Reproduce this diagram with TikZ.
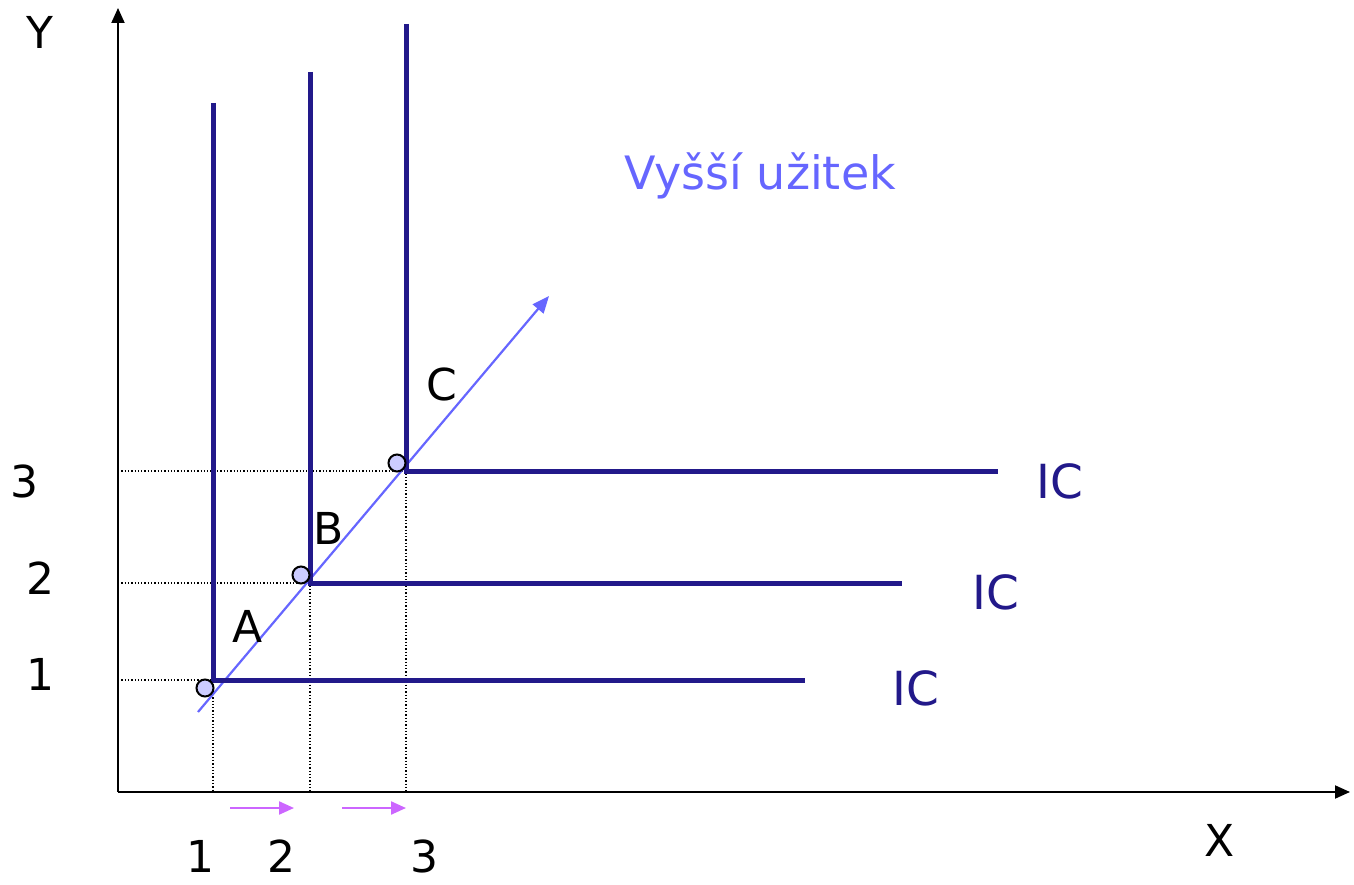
\documentclass[tikz,border=0pt]{standalone}
\usepackage{fontspec}
\setmainfont{DejaVu Sans}
\usetikzlibrary{arrows.meta}
\definecolor{icnavy}{HTML}{22198A}
\definecolor{utilblue}{HTML}{6666FF}
\definecolor{shiftpurple}{HTML}{CC66FF}
\definecolor{dotfill}{HTML}{CCCCFF}
\tikzset{
  axis/.style={line width=2pt,-{Triangle[length=15pt,width=13pt]}},
  icline/.style={line width=5pt,icnavy},
  guide/.style={line width=1.3pt,dotted},
  pt/.style={circle,draw=black,fill=dotfill,line width=2pt,minimum size=17pt,inner sep=0pt},
  lbl/.style={font=\fontsize{44}{46}\selectfont,inner sep=0pt},
  xnum/.style={lbl,anchor=base,text depth=0pt},
  iclbl/.style={font=\fontsize{47}{49}\selectfont,inner sep=0pt,text=icnavy},
  shiftarrow/.style={line width=2.2pt,shiftpurple,-{Triangle[length=15pt,width=13pt]}},
}
\begin{document}
\begin{tikzpicture}[x=1pt,y=-1pt]
\useasboundingbox (0,0) rectangle (1354,885);
% axes
\coordinate (O) at (118,792);
\coordinate (Ytip) at (118,8);
\coordinate (Xtip) at (1350,792);
\draw[axis] (O) -- (Ytip);
\draw[axis] (O) -- (Xtip);
% corners
\coordinate (A0) at (213,680);
\coordinate (B0) at (310,583);
\coordinate (C0) at (406,471);
\coordinate (Atop) at (213,103);
\coordinate (Btop) at (310,72);
\coordinate (Ctop) at (406,24);
\coordinate (Aend) at (805,680);
\coordinate (Bend) at (902,583);
\coordinate (Cend) at (998,471);
% guides
\coordinate (Ay) at (118,680); \coordinate (Ax) at (213,792);
\coordinate (By) at (118,583); \coordinate (Bx) at (310,792);
\coordinate (Cy) at (118,471); \coordinate (Cx) at (406,792);
\draw[guide] (Ay) -- (A0) -- (Ax);
\draw[guide] (By) -- (B0) -- (Bx);
\draw[guide] (Cy) -- (C0) -- (Cx);
% utility direction
\coordinate (Ds) at (198,712);
\coordinate (De) at (549,296);
\draw[utilblue,line width=2.2pt,-{Triangle[length=17pt,width=14pt]}] (Ds) -- (De);
% indifference curves
\draw[icline,line cap=butt] (Atop) -- (A0) -- (Aend);
\draw[icline,line cap=butt] (Btop) -- (B0) -- (Bend);
\draw[icline,line cap=butt] (Ctop) -- (C0) -- (Cend);
% points
\node[pt] (pA) at (205,688) {};
\node[pt] (pB) at (301,575) {};
\node[pt] (pC) at (397,463) {};
% shift arrows
\coordinate (s1a) at (230,808); \coordinate (s1b) at (294,808);
\coordinate (s2a) at (342,808); \coordinate (s2b) at (406,808);
\draw[shiftarrow] (s1a) -- (s1b);
\draw[shiftarrow] (s2a) -- (s2b);
% labels
\node[lbl] (ylab) at (40,32) {Y};
\node[lbl] (xlab) at (1220,840) {X};
\node[lbl] (y1) at (40,674) {1};
\node[lbl] (y2) at (40,578) {2};
\node[lbl] (y3) at (24,481) {3};
\node[xnum] (x1) at (200,872) {1};
\node[xnum] (x2) at (281,872) {2};
\node[xnum] (x3) at (424,872) {3};
\node[lbl] (la) at (248,626) {A};
\node[lbl] (lb) at (329,528) {B};
\node[lbl] (lc) at (442,384) {C};
\node[iclbl] (ic1) at (916,688) {IC};
\node[iclbl] (ic2) at (996,592) {IC};
\node[iclbl] (ic3) at (1060,481) {IC};
\node[lbl,font=\fontsize{46}{48}\selectfont,text=utilblue] (vu) at (760,176) {Vyšší užitek};
\end{tikzpicture}
\end{document}
